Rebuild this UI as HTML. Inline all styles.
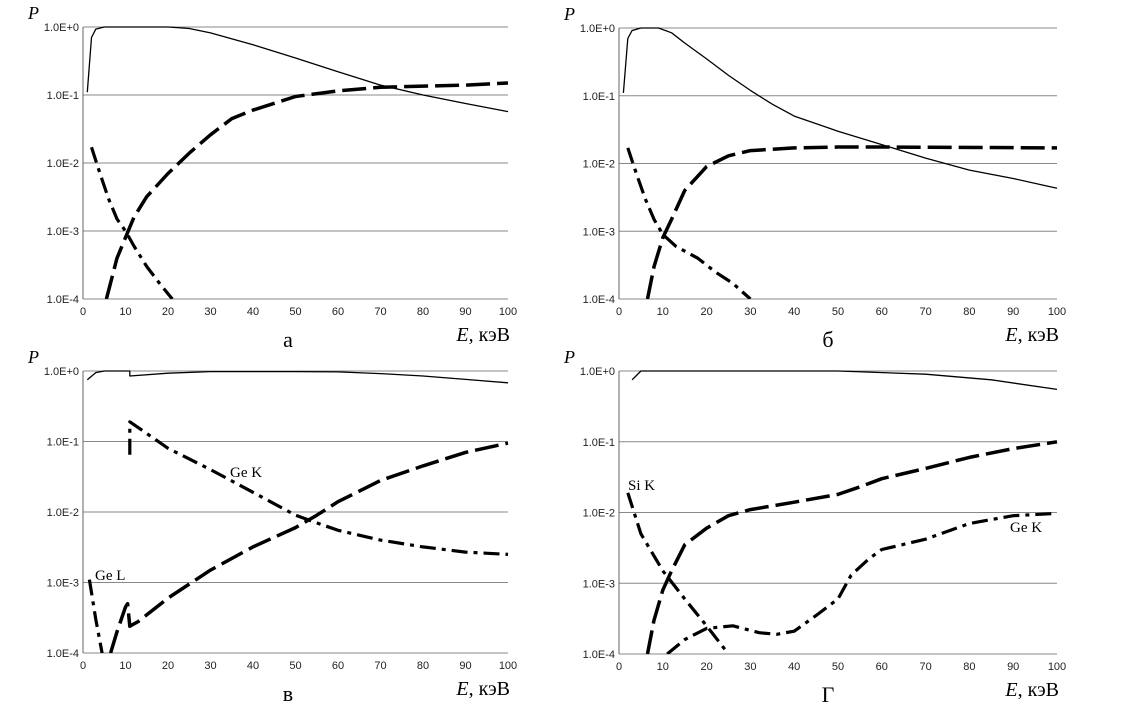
<!DOCTYPE html>
<html><head><meta charset="utf-8"><style>
body{margin:0;background:#fff;}
svg{display:block;font-family:"Liberation Sans",sans-serif;}
.tk{font-size:11px;fill:#222;}
.ser{font-family:"Liberation Serif",serif;}
</style></head><body>
<svg id="chart" width="1140" height="704" viewBox="0 0 1140 704"></svg>
<script>
// Panel a
const aSolid=[[1,0.11],[2,0.7],[3,0.93],[5,1],[20,1],[25,0.95],[30,0.82],[40,0.55],[50,0.35],[60,0.22],[70,0.14],[80,0.1],[90,0.075],[100,0.057]];
const aDash=[[5.5,1e-4],[8,4e-4],[10,8e-4],[12,1.6e-3],[15,3.2e-3],[20,7e-3],[25,1.4e-2],[30,2.6e-2],[35,4.5e-2],[40,6e-2],[50,9.5e-2],[60,0.115],[70,0.13],[80,0.135],[90,0.14],[100,0.15]];
const aDot=[[2,1.7e-2],[4,7e-3],[6,3e-3],[8,1.5e-3],[10,1e-3],[12,6e-4],[15,3e-4],[18,1.7e-4],[21,1e-4]];
// Panel b
const bSolid=[[1,0.11],[2,0.7],[3,0.92],[5,1],[9,1],[12,0.85],[15,0.6],[20,0.35],[25,0.2],[30,0.12],[35,0.075],[40,0.05],[50,0.03],[60,0.019],[70,0.012],[80,0.008],[90,0.006],[100,0.0043]];
const bDash=[[6.5,1e-4],[8,3e-4],[10,8e-4],[12,1.5e-3],[15,4e-3],[20,9e-3],[25,1.3e-2],[30,1.55e-2],[40,1.7e-2],[50,1.75e-2],[60,1.75e-2],[100,1.7e-2]];
const bDot=[[2,1.7e-2],[4,7e-3],[6,3e-3],[8,1.5e-3],[10,9e-4],[13,6e-4],[18,4e-4],[22,2.5e-4],[26,1.7e-4],[30,1e-4]];
// Panel v
const vSolid=[[1,0.75],[3,0.95],[5,1],[11,1],[11,0.85],[20,0.93],[30,0.98],[50,0.98],[60,0.97],[70,0.92],[80,0.85],[90,0.76],[100,0.68]];
const vDash=[[6.5,1e-4],[8,2e-4],[10,4.5e-4],[10.5,5e-4],[11,2.4e-4],[13,2.8e-4],[20,6e-4],[30,1.5e-3],[40,3.2e-3],[50,6e-3],[55,9e-3],[60,1.4e-2],[70,2.8e-2],[80,4.5e-2],[90,7e-2],[100,9.5e-2]];
const vGeL=[[1.5,1.1e-3],[3,3e-4],[4.5,1e-4]];
const vGeK=[[11,6.5e-2],[11,0.19],[15,0.13],[20,8e-2],[30,4e-2],[40,1.9e-2],[50,9e-3],[55,7e-3],[60,5.5e-3],[70,4e-3],[80,3.2e-3],[90,2.7e-3],[100,2.5e-3]];
// Panel g
const gSolid=[[3,0.75],[5,1],[50,1],[70,0.9],[85,0.75],[100,0.55]];
const gDash=[[6.5,1e-4],[8,3e-4],[10,8e-4],[12,1.5e-3],[15,3.5e-3],[20,6e-3],[25,9e-3],[30,1.1e-2],[40,1.4e-2],[50,1.8e-2],[55,2.3e-2],[60,3e-2],[70,4.2e-2],[80,6e-2],[90,8e-2],[100,0.1]];
const gGeK=[[11,1e-4],[15,1.6e-4],[20,2.3e-4],[26,2.5e-4],[32,2e-4],[36,1.9e-4],[40,2.1e-4],[45,3.5e-4],[50,6e-4],[53,1.3e-3],[57,2.2e-3],[60,3e-3],[70,4.2e-3],[80,7e-3],[90,9e-3],[100,9.7e-3]];
const gSiK=[[2,1.9e-2],[5,5e-3],[10,1.5e-3],[15,6e-4],[20,2.5e-4],[25,1e-4]];
const xTicks=[0,10,20,30,40,50,60,70,80,90,100];
const yTicks=["1.0E+0","1.0E-1","1.0E-2","1.0E-3","1.0E-4"];

const NS="http://www.w3.org/2000/svg";
const svg=document.getElementById('chart');
function mk(tag,attrs,parent){const e=document.createElementNS(NS,tag);for(const k in attrs)e.setAttribute(k,attrs[k]);(parent||svg).appendChild(e);return e;}
const STY={solid:{w:1.3,d:""},dash:{w:3.5,d:"24,7"},dot:{w:3.2,d:"16,6,4,6"}};
function panel(p){
  const g=mk('g',{});
  
  
  const X=v=>p.x0+(p.x1-p.x0)*v/100;
  const Y=v=>p.y0+(p.y1-p.y0)*(-Math.log10(v))/4;
  yTicks.forEach((t,i)=>{
    const y=p.y0+(p.y1-p.y0)*i/4;
    const l=mk('line',{x1:p.x0,x2:p.x1,y1:y,y2:y,stroke:'#888','stroke-width':1},g);
    
    
    const tx=mk('text',{x:p.x0-4,y:y+4,'text-anchor':'end',class:'tk'},g);tx.textContent=t;
    
    
  });
  const ax=mk('line',{x1:p.x0,x2:p.x0,y1:p.y0,y2:p.y1,stroke:'#666','stroke-width':1},g);
  
  
  xTicks.forEach(t=>{
    const tx=mk('text',{x:X(t),y:p.y1+16,'text-anchor':'middle',class:'tk'},g);tx.textContent=t;
    
    
  });
  const clip=mk('clipPath',{id:'c'+p.id},g);
  mk('rect',{x:p.x0,y:p.y0-4,width:p.x1-p.x0+4,height:p.y1-p.y0+4},clip);
  p.series.forEach(s=>{
    const st=STY[s.style];
    const d=s.data.map((q,i)=>(i?'L':'M')+X(q[0]).toFixed(1)+','+Y(q[1]).toFixed(1)).join('');
    const pa=mk('path',{d:d,fill:'none',stroke:'#000','stroke-width':st.w,'stroke-dasharray':st.d,'stroke-linejoin':'round','clip-path':'url(#c'+p.id+')'},g);
    
    
  });
  const P=mk('text',{x:p.x0-55,y:p.y0-8,class:'ser','font-size':'18','font-style':'italic'},g);P.textContent='P';
  
  
  const E=mk('text',{x:p.x1+2,y:p.y1+42,'text-anchor':'end',class:'ser','font-size':'20'},g);
  E.innerHTML='<tspan font-style="italic">E</tspan>,  кэВ';
  
  
  const L=mk('text',{x:p.lx,y:p.y1+48,'text-anchor':'middle',class:'ser','font-size':'22'},g);L.textContent=p.letter;
  
  
  (p.labels||[]).forEach(lb=>{
    const t=mk('text',{x:lb[0],y:lb[1],class:'ser','font-size':'15'},g);t.textContent=lb[2];
    
    
  });
}
panel({id:'a',x0:83,x1:508,y0:27,y1:299,letter:'а',lx:288,series:[{data:aSolid,style:'solid',name:'solid-curve'},{data:aDash,style:'dash',name:'dashed-curve'},{data:aDot,style:'dot',name:'dashdot-curve'}]});
panel({id:'b',x0:619,x1:1057,y0:28,y1:299,letter:'б',lx:828,series:[{data:bSolid,style:'solid',name:'solid-curve'},{data:bDash,style:'dash',name:'dashed-curve'},{data:bDot,style:'dot',name:'dashdot-curve'}]});
panel({id:'v',x0:83,x1:508,y0:371,y1:653,letter:'в',lx:288,series:[{data:vSolid,style:'solid',name:'solid-curve'},{data:vDash,style:'dash',name:'dashed-curve'},{data:vGeL,style:'dot',name:'ge-l-curve'},{data:vGeK,style:'dot',name:'ge-k-curve'}],labels:[[230,477,'Ge K'],[95,580,'Ge L']]});
panel({id:'g',x0:619,x1:1057,y0:371,y1:654,letter:'Г',lx:828,series:[{data:gSolid,style:'solid',name:'solid-curve'},{data:gDash,style:'dash',name:'dashed-curve'},{data:gGeK,style:'dot',name:'ge-k-curve'},{data:gSiK,style:'dot',name:'si-k-curve'}],labels:[[628,490,'Si K'],[1010,532,'Ge K']]});
</script>
</body></html>
